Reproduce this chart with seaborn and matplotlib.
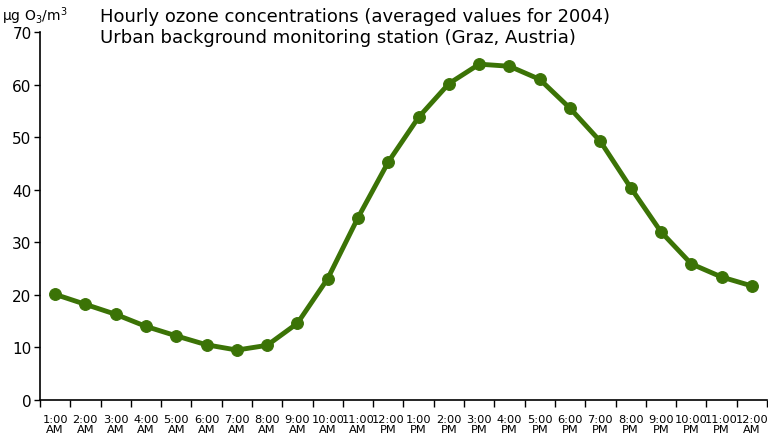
import matplotlib
matplotlib.use("Agg")
import matplotlib.pyplot as plt
import seaborn as sns
import pandas as pd
import numpy as np

hours = ["1:00\nAM", "2:00\nAM", "3:00\nAM", "4:00\nAM", "5:00\nAM", "6:00\nAM",
         "7:00\nAM", "8:00\nAM", "9:00\nAM", "10:00\nAM", "11:00\nAM", "12:00\nPM",
         "1:00\nPM", "2:00\nPM", "3:00\nPM", "4:00\nPM", "5:00\nPM", "6:00\nPM",
         "7:00\nPM", "8:00\nPM", "9:00\nPM", "10:00\nPM", "11:00\nPM", "12:00\nAM"]
ozone = [20.1, 18.2, 16.3, 14.0, 12.2, 10.5, 9.5, 10.4, 14.6, 23.1, 34.7, 45.3,
         53.8, 60.2, 63.9, 63.5, 61.0, 55.5, 49.2, 40.4, 32.0, 25.9, 23.4, 21.7]
yticks = [0, 10, 20, 30, 40, 50, 60, 70]

df = pd.DataFrame({"pos": np.arange(len(hours)), "ozone": ozone})

sns.set_theme(style="ticks")
plt.rcParams['font.family'] = ['DejaVu Sans']
plt.rcParams['text.color'] = 'black'
plt.rcParams['xtick.color'] = 'black'
plt.rcParams['ytick.color'] = 'black'
plt.rcParams['xtick.labelcolor'] = 'black'
plt.rcParams['ytick.labelcolor'] = 'black'

fig = plt.figure(figsize=(7.68, 4.39), dpi=100)
ax = fig.add_axes([0.052, 0.0866, 0.9467, 0.838])

color = "#3b7306"
sns.lineplot(data=df, x="pos", y="ozone", ax=ax, color=color, linewidth=3.5,
             marker="o", markersize=8.5, markeredgecolor=color, markerfacecolor=color)

n = len(hours)
ax.set_xlim(-0.5, n - 0.5)
ax.set_ylim(0, 70)
ax.set_yticks(yticks)
ax.tick_params(axis="y", labelsize=11, length=4, width=1, direction="out", pad=2)

ax.set_xticks(np.arange(-0.5, n, 1.0))
ax.set_xticklabels([])
ax.tick_params(axis="x", which="major", length=5, width=1, direction="out")
ax.set_xticks(np.arange(n), minor=True)
ax.set_xticklabels(hours, minor=True, fontsize=8.2, linespacing=1.0)
ax.tick_params(axis="x", which="minor", length=0, pad=10)

for s in ["top", "right"]:
    ax.spines[s].set_visible(False)
for s in ["left", "bottom"]:
    ax.spines[s].set_color("black")
    ax.spines[s].set_linewidth(1.2)

ax.set_xlabel("")
ax.set_ylabel("")

fig.text(0.002, 0.962, "µg O$_3$/m$^3$", fontsize=10, va="center", ha="left")
fig.text(0.130, 0.962, "Hourly ozone concentrations (averaged values for 2004)",
         fontsize=13, va="center", ha="left")
fig.text(0.130, 0.913, "Urban background monitoring station (Graz, Austria)",
         fontsize=13, va="center", ha="left")

fig.savefig("out.png", dpi=100)
